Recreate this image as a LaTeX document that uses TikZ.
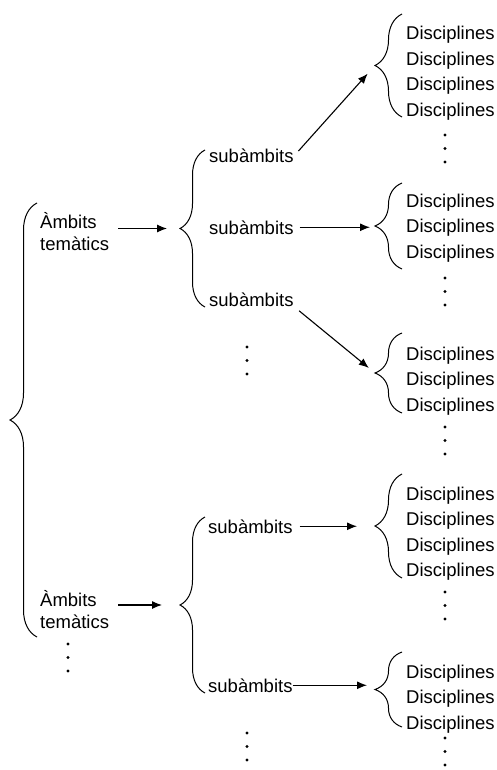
\documentclass[tikz,border=0pt]{standalone}
\usepackage{fontspec}
\setmainfont{Liberation Sans}
\usetikzlibrary{arrows.meta,decorations.pathreplacing,calc}

\begin{document}
\begin{tikzpicture}[
        x=1pt, y=-1pt,
        % Define styles for the different parts
        entry/.style={
            anchor=base west,
            inner sep=0pt,
            font=\fontsize{18.5}{22}\selectfont
        },
        ambit/.style={
            entry,
            anchor=west,
            align=left
        },
        curly/.style={
            decorate,
            decoration={brace, amplitude=26pt},
            line width=1pt
        },
        arrow/.style={
            -{Latex[length=10pt,width=8pt]},
            line width=1.1pt
        },
        dotcol/.pic={
            \foreach \k in {0,1,2}
                \fill (0,\k*13.5) circle (1.7pt);
        }
    ]

    \useasboundingbox (0,0) rectangle (497,770);

    % Place the two Ambits nodes
    \node[ambit] (amb1) at (40,232) {Àmbits\\temàtics};
    \node[ambit] (amb2) at (40,610) {Àmbits\\temàtics};
    \pic at (68,644) {dotcol};

    % Place subambits
    \node[entry] (sub1) at (209,163) {subàmbits};
    \node[entry] (sub2) at (209,234) {subàmbits};
    \node[entry] (sub3) at (209,306) {subàmbits};
    \pic at (247,347) {dotcol};
    \node[entry] (sub4) at (208,533) {subàmbits};
    \node[entry] (sub5) at (208,692) {subàmbits};
    \pic at (247,733) {dotcol};

    % Place the groups of disciplines
    \foreach \g/\first/\n/\dy in {1/40/4/135, 2/207/3/278, 3/360/3/427, 4/500/4/592, 5/678/3/738} {
        \foreach \i in {1,...,\n} {
            \node[entry] (dis\g-\i) at (406,{\first+(\i-1)*25.5}) {Disciplines};
        }
        \pic at (445,\dy) {dotcol};
    }

    % Brace end points and tips
    \coordinate (bigtop) at (37,203);
    \coordinate (bigbot) at (37,637);
    \coordinate (bigtip) at (10,420);
    \coordinate (sa1top) at (205,150);
    \coordinate (sa1bot) at (205,307);
    \coordinate (sa1tip) at (180,228.5);
    \coordinate (sa2top) at (205,517);
    \coordinate (sa2bot) at (205,693);
    \coordinate (sa2tip) at (180,605);
    \foreach \g/\ya/\yb in {1/14/117, 2/183/269, 3/333/413, 4/474/578, 5/652/727} {
        \coordinate (g\g-top) at (402,\ya);
        \coordinate (g\g-bot) at (402,\yb);
        \coordinate (g\g-tip) at (375,{(\ya+\yb)/2});
    }

    % Draw the braces
    \draw[curly, decoration={amplitude=27pt}] (bigbot) -- (bigtop);
    \draw[curly, decoration={amplitude=25pt}] (sa1bot) -- (sa1top);
    \draw[curly, decoration={amplitude=25pt}] (sa2bot) -- (sa2top);
    \foreach \g in {1,...,5} {
        \draw[curly, decoration={amplitude=27pt}] (g\g-bot) -- (g\g-top);
    }

    % Draw the arrows
    \draw[arrow, shorten <=9pt, shorten >=13pt] (amb1.east |- sa1tip) -- (sa1tip);
    \draw[arrow, shorten <=9pt, shorten >=18pt] (amb2.east |- sa2tip) -- (sa2tip);
    \draw[arrow, shorten <=7pt, shorten >=11pt] (sub1.east) -- (g1-tip);
    \draw[arrow, shorten <=6pt, shorten >=5pt] (sub2.east) -- (sub2.east -| g2-tip);
    \draw[arrow, shorten <=7pt, shorten >=8pt] (sub3.south east) -- (g3-tip);
    \draw[arrow, shorten <=7pt, shorten >=18pt] (sub4.east) -- (sub4.east -| g4-tip);
    \draw[arrow, shorten >=8pt] (sub5.east) -- (sub5.east -| g5-tip);

\end{tikzpicture}
\end{document}
